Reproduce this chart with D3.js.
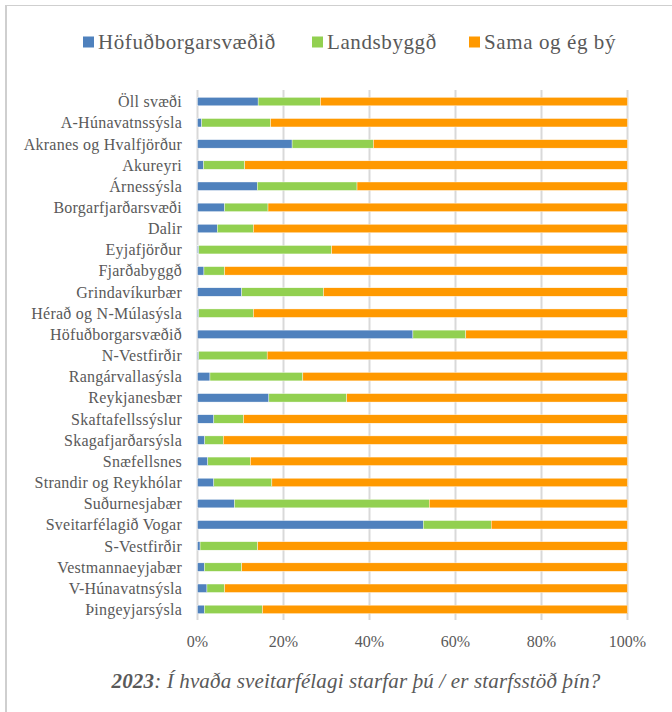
<!DOCTYPE html>
<html>
<head>
<meta charset="utf-8">
<script src="https://cdn.jsdelivr.net/npm/d3@7"></script>
<style>
  body { margin: 0; background: #fff; }
  text { font-family: "Liberation Serif", "DejaVu Serif", serif; fill: #595959; }
</style>
</head>
<body>
<div id="chart"></div>
<script>
const regions = [
  "Öll svæði", "A-Húnavatnssýsla", "Akranes og Hvalfjörður", "Akureyri", "Árnessýsla",
  "Borgarfjarðarsvæði", "Dalir", "Eyjafjörður", "Fjarðabyggð", "Grindavíkurbær",
  "Hérað og N-Múlasýsla", "Höfuðborgarsvæðið", "N-Vestfirðir", "Rangárvallasýsla", "Reykjanesbær",
  "Skaftafellssýslur", "Skagafjarðarsýsla", "Snæfellsnes", "Strandir og Reykhólar", "Suðurnesjabær",
  "Sveitarfélagið Vogar", "S-Vestfirðir", "Vestmannaeyjabær", "V-Húnavatnsýsla", "Þingeyjarsýsla"
];
const hofudborg = [14.1, 1.0, 22.0, 1.4, 13.9, 6.3, 4.6, 0.3, 1.5, 10.3, 0.3, 50.1, 0.3, 2.9, 16.6, 3.8, 1.7, 2.4, 3.8, 8.6, 52.5, 0.6, 1.6, 2.2, 1.6];
const landsbyggd = [14.5, 16.0, 18.9, 9.6, 23.2, 10.1, 8.4, 30.9, 4.8, 19.0, 12.7, 12.3, 15.9, 21.6, 18.1, 6.9, 4.3, 9.9, 13.5, 45.3, 15.8, 13.4, 8.7, 4.1, 13.5];
const sama = [71.4, 83.0, 59.1, 89.0, 62.9, 83.6, 87.0, 68.8, 93.7, 70.7, 87.0, 37.6, 83.8, 75.5, 65.3, 89.3, 94.0, 87.7, 82.7, 46.1, 31.7, 86.0, 89.7, 93.7, 84.9];
const seriesNames = ["Höfuðborgarsvæðið", "Landsbyggð", "Sama og ég bý"];
const seriesColors = ["#4f81bd", "#92d050", "#ff9900"];
const xTicks = [0, 0.2, 0.4, 0.6, 0.8, 1];
const titleYear = "2023";
const titleRest = ": Í hvaða sveitarfélagi starfar þú / er starfsstöð þín?";

const W = 672, H = 712;
const rows = regions.map((r, i) => ({
  region: r,
  [seriesNames[0]]: hofudborg[i],
  [seriesNames[1]]: landsbyggd[i],
  [seriesNames[2]]: sama[i]
}));

const svg = d3.select("#chart").append("svg")
  .attr("width", W)
  .attr("height", H);

// outer frame
svg.append("line").attr("x1", 6).attr("x2", 6).attr("y1", 5).attr("y2", H)
  .attr("stroke", "#cfcfcf").attr("stroke-width", 2);
svg.append("line").attr("x1", 5).attr("x2", W).attr("y1", 5.5).attr("y2", 5.5)
  .attr("stroke", "#cfcfcf").attr("stroke-width", 1);

const x = d3.scaleLinear().domain([0, 1]).range([197.5, 627.5]);
const y = d3.scaleBand().domain(regions).range([91, 620]).paddingInner(0.6).paddingOuter(0.3);

const stack = d3.stack().keys(seriesNames).offset(d3.stackOffsetExpand);
const stacked = stack(rows);

// gridlines
svg.append("g")
  .selectAll("line")
  .data(xTicks)
  .join("line")
  .attr("x1", d => x(d)).attr("x2", d => x(d))
  .attr("y1", 90).attr("y2", 620)
  .attr("stroke", "#d9d9d9")
  .attr("stroke-width", 2);

// bars
svg.append("g")
  .selectAll("g")
  .data(stacked)
  .join("g")
  .attr("fill", (d, i) => seriesColors[i])
  .selectAll("rect")
  .data(d => d)
  .join("rect")
  .attr("x", d => x(d[0]))
  .attr("y", d => y(d.data.region))
  .attr("width", d => x(d[1]) - x(d[0]))
  .attr("height", y.bandwidth())
  .attr("stroke", "#ffffff")
  .attr("stroke-width", 0.4);

// y labels
svg.append("g")
  .selectAll("text")
  .data(regions)
  .join("text")
  .attr("x", 182)
  .attr("y", d => y(d) + y.bandwidth() / 2)
  .attr("dy", "0.35em")
  .attr("text-anchor", "end")
  .style("font-size", "16px")
  .style("letter-spacing", "0.25px")
  .text(d => d);

// x tick labels
svg.append("g")
  .selectAll("text")
  .data(xTicks)
  .join("text")
  .attr("x", d => x(d))
  .attr("y", 641)
  .attr("dy", "0.35em")
  .attr("text-anchor", "middle")
  .style("font-size", "16px")
  .text(d => d3.format(".0%")(d));

// legend
const legendX = [83, 312, 469];
const legend = svg.append("g")
  .selectAll("g")
  .data(seriesNames)
  .join("g")
  .attr("transform", (d, i) => `translate(${legendX[i]},42)`);
legend.append("rect")
  .attr("x", 0).attr("y", -5.5)
  .attr("width", 11).attr("height", 11)
  .attr("fill", (d, i) => seriesColors[i]);
legend.append("text")
  .attr("x", 15)
  .attr("dy", "0.35em")
  .style("font-size", "21px")
  .style("letter-spacing", "0.6px")
  .text(d => d);

// title
const title = svg.append("text")
  .attr("x", 356)
  .attr("y", 681)
  .attr("dy", "0.35em")
  .attr("text-anchor", "middle")
  .style("font-size", "21px")
  .style("letter-spacing", "0.15px")
  .style("font-style", "italic");
title.append("tspan").style("font-weight", "bold").text(titleYear);
title.append("tspan").text(titleRest);
</script>
</body>
</html>
